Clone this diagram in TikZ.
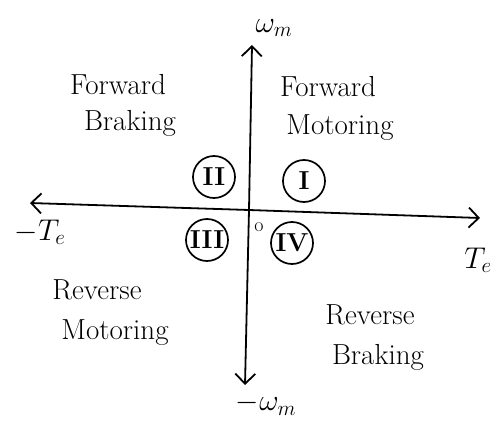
\RequirePackage{fix-cm}
\documentclass[tikz,border=0pt]{standalone}
\usepackage{tikz}
\usetikzlibrary{arrows.meta}
\begin{document}
\begin{tikzpicture}[x=1pt,y=-1pt,
  axis/.style={line width=1.8pt,-{Straight Barb[length=10pt,width=20pt,line width=1.8pt]}},
  lbl/.style={font=\fontsize{29}{32}\selectfont,align=left},
  mlbl/.style={inner sep=0pt,font=\fontsize{30}{34}\selectfont},
  quad/.style={circle,draw,line width=1.7pt,minimum size=42pt,inner sep=0pt,font=\fontsize{26}{30}\selectfont\bfseries}]
\useasboundingbox (0,0) rectangle (501,423);
\coordinate (c) at (249,210);
\coordinate (top) at (252,45);
\coordinate (bot) at (245,385);
\coordinate (left) at (30,203);
\coordinate (right) at (480,218);
\draw[axis] (c) -- (top);
\draw[axis] (c) -- (bot);
\draw[axis] (c) -- (left);
\draw[axis] (c) -- (right);
\node[mlbl] (wm) at (274,28) {$\omega_m$};
\node[mlbl] (mwm) at (266,404) {$-\omega_m$};
\node[mlbl] (mte) at (40,232) {$-T_e$};
\node[mlbl] (te) at (478,260) {$T_e$};
\node[font=\fontsize{20}{22}\selectfont] (o) at (259,227) {o};
\node[lbl] (fb1) at (118,85) {Forward};
\node[lbl] (fb2) at (130,123) {Braking};
\node[lbl] (fm1) at (328,87) {Forward};
\node[lbl] (fm2) at (340,128) {Motoring};
\node[lbl] (rm1) at (97,290) {Reverse};
\node[lbl] (rm2) at (115,333) {Motoring};
\node[lbl] (rb1) at (370,315) {Reverse};
\node[lbl] (rb2) at (378,357) {Braking};
\node[quad] (q2) at (214,177) {II};
\node[quad] (q1) at (304,181) {I};
\node[quad] (q3) at (207,240) {III};
\node[quad] (q4) at (292,243) {IV};
\end{tikzpicture}
\end{document}
